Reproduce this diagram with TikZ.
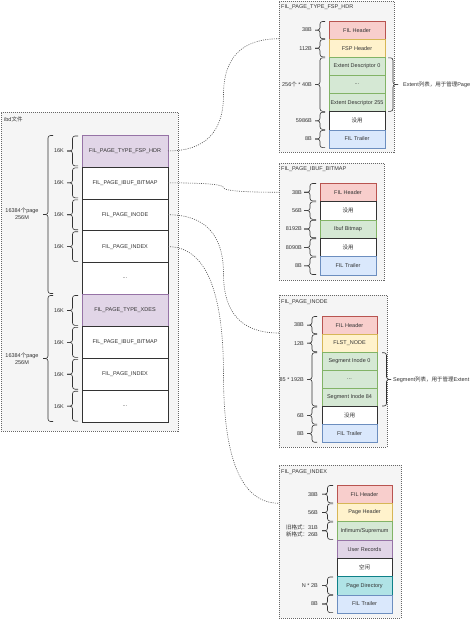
\documentclass[tikz,border=0pt]{standalone}
\usepackage{fontspec}
\setmainfont{Liberation Sans}
\newfontfamily\cjk{Noto Sans CJK SC}
\usetikzlibrary{calc}
\definecolor{redF}{HTML}{F8CECC}\definecolor{redD}{HTML}{B85450}
\definecolor{yelF}{HTML}{FFF2CC}\definecolor{yelD}{HTML}{D6B656}
\definecolor{grnF}{HTML}{D5E8D4}\definecolor{grnD}{HTML}{82B366}
\definecolor{bluF}{HTML}{DAE8FC}\definecolor{bluD}{HTML}{6C8EBF}
\definecolor{purF}{HTML}{E1D5E7}\definecolor{purD}{HTML}{9673A6}
\definecolor{teaF}{HTML}{B0E3E6}\definecolor{teaD}{HTML}{0E8088}
\definecolor{panF}{HTML}{F5F5F5}\definecolor{panD}{HTML}{666666}
\definecolor{txt}{HTML}{333333}
\definecolor{connC}{HTML}{555555}
\newcommand\sz{\fontsize{5.5}{6.6}\selectfont}
\newcommand\Br[4]{%
  \draw[brace] ({#1+(#4)},{#2}) -- ({#1+(#4)/2},{#2}) -- ({#1+(#4)/2},{((#2)+(#3))/2}) -- ({#1},{((#2)+(#3))/2});
  \draw[brace] ({#1+(#4)},{#3}) -- ({#1+(#4)/2},{#3}) -- ({#1+(#4)/2},{((#2)+(#3))/2}) -- ({#1},{((#2)+(#3))/2});}
\newcommand\mkconn[3]{%
  \coordinate (#3m) at ($(#1)!0.5!(#2)$);
  \coordinate (#3a) at (#1 -| #3m);
  \coordinate (#3b) at (#3m |- #2);
  \draw[conn] (#1) .. controls ($(#1)!2/3!(#3a)$) and ($(#3m)!2/3!(#3a)$) .. (#3m)
     .. controls ($(#3m)!2/3!(#3b)$) and ($(#2)!2/3!(#3b)$) .. (#2);}
\begin{document}
\begin{tikzpicture}[x=1pt,y=-1pt,
  panel/.style={draw=panD, fill=panF, dash pattern=on 1pt off 1pt, line width=0.5pt, inner sep=0pt, outer sep=0pt, anchor=north west},
  row/.style={draw=txt, fill=white, line width=0.6pt, inner sep=0pt, outer sep=0pt, font=\sz, text=txt, anchor=north},
  redrow/.style={fill=redF, draw=redD},
  yelrow/.style={fill=yelF, draw=yelD},
  grnrow/.style={fill=grnF, draw=grnD},
  blurow/.style={fill=bluF, draw=bluD},
  purrow/.style={fill=purF, draw=purD},
  tearow/.style={fill=teaF, draw=teaD},
  lbl/.style={font=\sz, text=txt, inner sep=0pt, anchor=east, align=left},
  ttl/.style={font=\sz, text=txt, inner sep=0pt, anchor=west},
  brace/.style={draw=txt, line width=0.6pt, rounded corners=2.5pt},
  conn/.style={draw=connC, line width=0.6pt, dash pattern=on 1pt off 1.2pt},
  L/.style={row, minimum width=86pt, minimum height=31.9pt},
  A/.style={row, minimum width=56pt, minimum height=18.15pt},
  B/.style={row, minimum width=56pt, minimum height=18.4pt},
  C/.style={row, minimum width=55pt, minimum height=18.1pt},
  D/.style={row, minimum width=55pt, minimum height=18.3pt}]
\useasboundingbox (0,0) rectangle (474,621);
\fill[white] (0,0) rectangle (474,621);

% ---------- left panel ----------
\node[panel, minimum width=177pt, minimum height=319pt] (LP) at (1,112) {};
\node[ttl] (LPt) at (4,119) {ibd{\cjk 文件}};
\node[L, purrow] (l1) at (125,135) {FIL\_PAGE\_TYPE\_FSP\_HDR};
\node[L] (l2) at (l1.south) {FIL\_PAGE\_IBUF\_BITMAP};
\node[L] (l3) at (l2.south) {FIL\_PAGE\_INODE};
\node[L] (l4) at (l3.south) {FIL\_PAGE\_INDEX};
\node[L] (l5) at (l4.south) {...};
\node[L, purrow] (l6) at (l5.south) {FIL\_PAGE\_TYPE\_XDES};
\node[L] (l7) at (l6.south) {FIL\_PAGE\_IBUF\_BITMAP};
\node[L] (l8) at (l7.south) {FIL\_PAGE\_INDEX};
\node[L] (l9) at (l8.south) {...};
\foreach \i in {0,1,2,3,5,6,7,8}{
  \Br{67}{135+31.9*\i+1}{135+31.9*(\i+1)-1}{11}
  \node[lbl] at (64,{135+31.9*(\i+0.5)}) {16K};
}
\Br{43}{135.5}{293.5}{10}
\Br{43}{295.5}{421.5}{10}
\node[lbl, align=center, anchor=center] (big1) at (22,214) {16384{\cjk 个}page\\256M};
\node[lbl, align=center, anchor=center] (big2) at (22,358.5) {16384{\cjk 个}page\\256M};

% ---------- panel 1 ----------
\node[panel, minimum width=115pt, minimum height=151pt] (P1) at (279,1) {};
\node[ttl] (P1t) at (281,7.5) {FIL\_PAGE\_TYPE\_FSP\_HDR};
\node[A, redrow] (a1) at (357,21) {FIL Header};
\node[A, yelrow] (a2) at (a1.south) {FSP Header};
\node[A, grnrow] (a3) at (a2.south) {Extent Descriptor 0};
\node[A, grnrow] (a4) at (a3.south) {...};
\node[A, grnrow] (a5) at (a4.south) {Extent Descriptor 255};
\node[A] (a6) at (a5.south) {\cjk 没用};
\node[A, blurow] (a7) at (a6.south) {FIL Trailer};
\node[lbl] at (312,30.1) {38B};
\node[lbl] at (312,48.2) {112B};
\node[lbl] at (312,84.5) {256{\cjk 个} * 40B};
\node[lbl] at (312,120.8) {5986B};
\node[lbl] at (312,139.0) {8B};
\Br{315}{21.5}{38.7}{10}
\Br{315}{39.6}{56.8}{10}
\Br{315}{57.8}{111.3}{10}
\Br{315}{112.2}{129.4}{10}
\Br{315}{130.4}{147.6}{10}
\Br{398}{57.8}{111.3}{-10}
\node[ttl] (e1) at (403,84.5) {Extent{\cjk 列表，用于管理}Page};

% ---------- panel 2 ----------
\node[panel, minimum width=105pt, minimum height=117pt] (P2) at (279,163) {};
\node[ttl] (P2t) at (281,169.5) {FIL\_PAGE\_IBUF\_BITMAP};
\node[B, redrow] (b1) at (348,183) {FIL Header};
\node[B] (b2) at (b1.south) {\cjk 没用};
\node[B, grnrow] (b3) at (b2.south) {Ibuf Bitmap};
\node[B] (b4) at (b3.south) {\cjk 没用};
\node[B, blurow] (b5) at (b4.south) {FIL Trailer};
\node[lbl] at (302,192.2) {38B};
\node[lbl] at (302,210.6) {56B};
\node[lbl] at (302,229.0) {8192B};
\node[lbl] at (302,247.4) {8090B};
\node[lbl] at (302,265.8) {8B};
\foreach \i in {0,...,4}{\Br{304}{183+18.4*\i+0.5}{183+18.4*(\i+1)-0.5}{12}}

% ---------- panel 3 ----------
\node[panel, minimum width=108pt, minimum height=152pt] (P3) at (279,295) {};
\node[ttl] (P3t) at (281,302) {FIL\_PAGE\_INODE};
\node[C, redrow] (c1) at (349.5,316) {FIL Header};
\node[C, yelrow] (c2) at (c1.south) {FLST\_NODE};
\node[C, grnrow] (c3) at (c2.south) {Segment Inode 0};
\node[C, grnrow] (c4) at (c3.south) {...};
\node[C, grnrow] (c5) at (c4.south) {Segment Inode 84};
\node[C] (c6) at (c5.south) {\cjk 没用};
\node[C, blurow] (c7) at (c6.south) {FIL Trailer};
\node[lbl] at (304,325.05) {38B};
\node[lbl] at (304,343.15) {12B};
\node[lbl] at (304,379.35) {85 * 192B};
\node[lbl] at (304,415.55) {6B};
\node[lbl] at (304,433.65) {8B};
\Br{307}{316.5}{333.6}{10}
\Br{307}{334.6}{351.7}{10}
\Br{307}{352.7}{406.0}{10}
\Br{307}{407.0}{424.1}{10}
\Br{307}{425.1}{442.2}{10}
\Br{391}{352.7}{406.0}{-9}
\node[ttl] (e3) at (393,379.35) {Segment{\cjk 列表，用于管理}Extent};

% ---------- panel 4 ----------
\node[panel, minimum width=122pt, minimum height=153pt] (P4) at (279,465) {};
\node[ttl] (P4t) at (281,472) {FIL\_PAGE\_INDEX};
\node[D, redrow] (d1) at (364.5,485) {FIL Header};
\node[D, yelrow] (d2) at (d1.south) {Page Header};
\node[D, grnrow] (d3) at (d2.south) {Infimum/Supremum};
\node[D, purrow] (d4) at (d3.south) {User Records};
\node[D] (d5) at (d4.south) {\cjk 空闲};
\node[D, tearow] (d6) at (d5.south) {Page Directory};
\node[D, blurow] (d7) at (d6.south) {FIL Trailer};
\node[lbl] at (318,494.15) {38B};
\node[lbl] at (318,512.45) {56B};
\node[lbl] at (318,530.75) {{\cjk 旧格式：}31B\\{\cjk 新格式：}26B};
\node[lbl] at (318,585.65) {N * 2B};
\node[lbl] at (318,603.95) {8B};
\Br{322}{485.5}{502.8}{11}
\Br{322}{503.8}{521.1}{11}
\Br{322}{522.1}{539.4}{11}
\Br{322}{577.0}{594.3}{11}
\Br{322}{595.3}{612.6}{11}

% ---------- connectors ----------
\coordinate (p1w) at ($(P1.north west)!0.25!(P1.south west)$);
\coordinate (p2w) at ($(P2.north west)!0.25!(P2.south west)$);
\coordinate (p3w) at ($(P3.north west)!0.25!(P3.south west)$);
\coordinate (p4w) at ($(P4.north west)!0.25!(P4.south west)$);
\mkconn{l1.east}{p1w}{k1}
\mkconn{l2.east}{p2w}{k2}
\mkconn{l3.east}{p3w}{k3}
\mkconn{l4.east}{p4w}{k4}
\end{tikzpicture}
\end{document}
